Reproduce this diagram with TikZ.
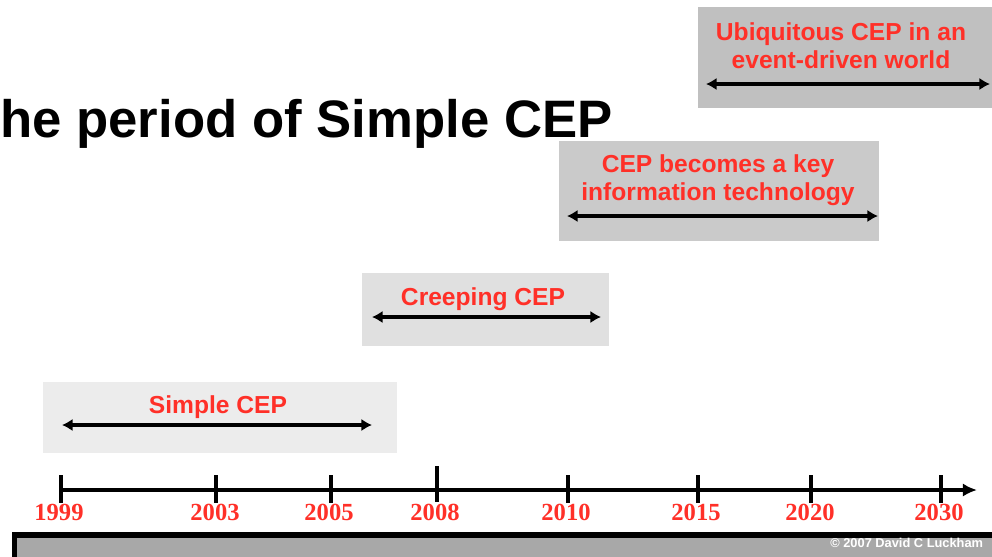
\documentclass[tikz,border=0pt]{standalone}
\usepackage{fontspec}
\setmainfont{Liberation Serif}
\setsansfont{Liberation Sans}
\usepackage{tikz}
\usetikzlibrary{arrows.meta}

\definecolor{cepred}{RGB}{255,48,40}
\definecolor{erafour}{RGB}{192,192,192}
\definecolor{erathree}{RGB}{202,202,202}
\definecolor{eratwo}{RGB}{224,224,224}
\definecolor{eraone}{RGB}{236,236,236}
\definecolor{footgray}{RGB}{168,168,168}

\begin{document}
\begin{tikzpicture}[x=0.02cm, y=-0.02cm,
    era/.style={rectangle, draw=none, inner sep=0pt},
    eralabel/.style={text=cepred, font=\sffamily\bfseries\fontsize{14}{16}\selectfont, align=center, inner sep=0pt},
    span/.style={{Latex[length=6pt,width=7pt]}-{Latex[length=6pt,width=7pt]}, line width=1.8pt},
    year/.style={text=cepred, font=\bfseries\fontsize{14}{16}\selectfont, inner sep=0pt, anchor=base},
    tick/.style={line width=1.8pt}]
    \useasboundingbox (0,0) rectangle (992,556);
    \clip (0,0) rectangle (992,556);

    % Title
    \node[anchor=base west, inner sep=0pt, font=\sffamily\bfseries\fontsize{30}{36}\selectfont] (title) at (0,137) {he period of Simple CEP};

    % Boxes
    \node[era, fill=erafour, minimum width=5.96cm, minimum height=2.02cm] (box4) at (847,57.5) {};
    \node[era, fill=erathree, minimum width=6.4cm, minimum height=2.0cm] (box3) at (719,191) {};
    \node[era, fill=eratwo, minimum width=4.94cm, minimum height=1.46cm] (box2) at (485.5,309.5) {};
    \node[era, fill=eraone, minimum width=7.08cm, minimum height=1.42cm] (box1) at (220,417.5) {};

    % Labels
    \node[eralabel] (lab4) at (841,45.5) {Ubiquitous CEP in an\\event-driven world};
    \node[eralabel] (lab3) at (718,180) {CEP becomes a key\\information technology};
    \node[eralabel, anchor=base] (lab2) at (483,305) {Creeping CEP};
    \node[eralabel, anchor=base] (lab1) at (218,413) {Simple CEP};

    % Spans
    \coordinate (s4a) at (706,84);
    \coordinate (s4b) at (990,84);
    \coordinate (s3a) at (567,216);
    \coordinate (s3b) at (878,216);
    \coordinate (s2a) at (372,317);
    \coordinate (s2b) at (601,317);
    \coordinate (s1a) at (62,425);
    \coordinate (s1b) at (372,425);
    \draw[span] (s4a) -- (s4b);
    \draw[span] (s3a) -- (s3b);
    \draw[span] (s2a) -- (s2b);
    \draw[span] (s1a) -- (s1b);

    % Time line
    \coordinate (start) at (60,490);
    \coordinate (end) at (977,490);
    \draw[line width=1.8pt, -{Latex[length=8pt,width=7.5pt]}] (start) -- (end);
    \draw[tick] (61,475) -- (61,503);
    \draw[tick] (216,475) -- (216,503);
    \draw[tick] (331,475) -- (331,503);
    \draw[tick] (437,466) -- (437,502);
    \draw[tick] (568,475) -- (568,503);
    \draw[tick] (698,475) -- (698,503);
    \draw[tick] (811,475) -- (811,503);
    \draw[tick] (941,475) -- (941,503);

    % Years
    \node[year] (y1999) at (59,520) {1999};
    \node[year] (y2003) at (215,520) {2003};
    \node[year] (y2005) at (329,520) {2005};
    \node[year] (y2008) at (435,520) {2008};
    \node[year] (y2010) at (566,520) {2010};
    \node[year] (y2015) at (696,520) {2015};
    \node[year] (y2020) at (810,520) {2020};
    \node[year] (y2030) at (939,520) {2030};

    % Footer
    \draw[line width=3.2pt, fill=footgray] (14.5,535) rectangle (1010,580);
    \node[anchor=base west, inner sep=0pt, text=white, font=\sffamily\bfseries\fontsize{7.3}{9}\selectfont] (copy) at (830,547) {\textcopyright{} 2007 David C Luckham};
\end{tikzpicture}
\end{document}
